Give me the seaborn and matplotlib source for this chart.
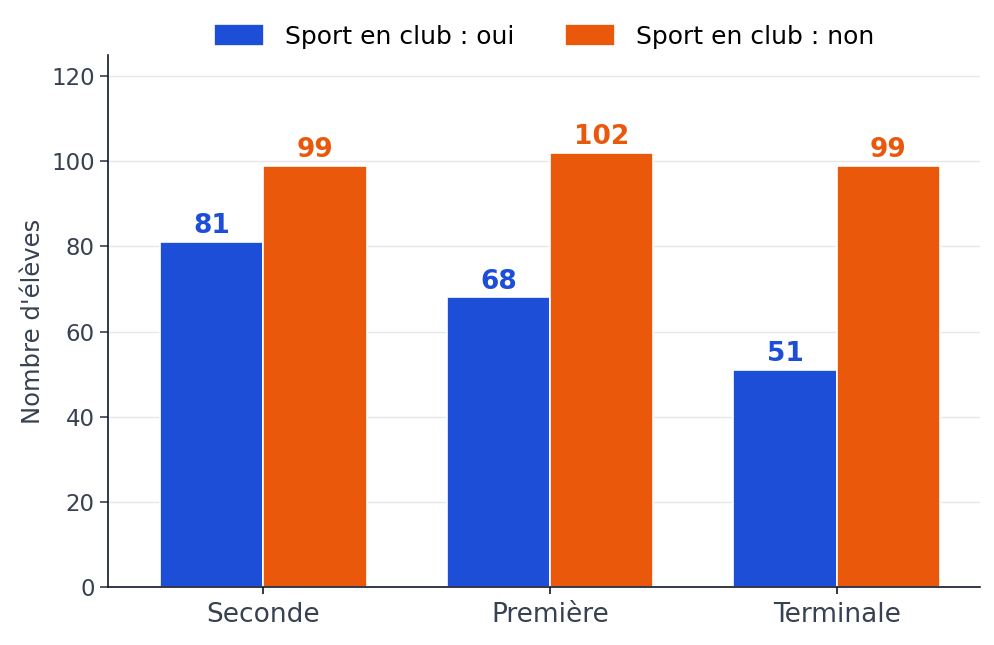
import matplotlib
matplotlib.use("Agg")
import matplotlib.pyplot as plt
import seaborn as sns
import pandas as pd

# data
niveaux = ["Seconde", "Première", "Terminale"]
club_oui = [81, 68, 51]
club_non = [99, 102, 99]
series = ["Sport en club : oui", "Sport en club : non"]
couleurs = ["#1d4ed8", "#ea580c"]

df = pd.DataFrame({
    "Niveau": niveaux * 2,
    "Effectif": club_oui + club_non,
    "Groupe": [series[0]] * 3 + [series[1]] * 3,
})

sns.set_theme(style="white")
plt.rcParams["font.family"] = ["DejaVu Sans"]

fig, ax = plt.subplots(figsize=(9.95, 6.45), dpi=100)
sns.barplot(data=df, x="Niveau", y="Effectif", hue="Groupe", order=niveaux,
            hue_order=series, palette=couleurs, width=0.72, saturation=1,
            edgecolor="white", linewidth=1.2, ax=ax)

for cont, col in zip(ax.containers, couleurs):
    ax.bar_label(cont, padding=2, color=col, fontsize=19, fontweight="bold")

ax.set_ylim(0, 125)
ax.set_xlim(-0.54, 2.5)
ax.set_yticks(range(0, 121, 20))
ax.yaxis.grid(True, color="#e5e7eb", linewidth=1)
ax.set_axisbelow(True)
ax.set_xlabel("")
ax.set_ylabel("Nombre d'élèves", fontsize=17.5, color="#374151", labelpad=4)
ax.tick_params(axis="x", labelsize=19, labelcolor="#374151", color="#111827",
               bottom=True, length=5, width=1.2, pad=6)
ax.tick_params(axis="y", labelsize=16.5, labelcolor="#374151", color="#374151",
               left=True, length=6, width=1.2, pad=4)
for s in ["top", "right"]:
    ax.spines[s].set_visible(False)
for s in ["left", "bottom"]:
    ax.spines[s].set_color("#111827")
    ax.spines[s].set_linewidth(1.2)

leg = ax.legend(loc="lower center", bbox_to_anchor=(0.5, 0.993), ncol=2,
                frameon=False, fontsize=18, handlelength=2.0, handleheight=0.95,
                handletextpad=0.85, columnspacing=2.0, borderaxespad=0)
for t in leg.get_texts():
    t.set_color("black")

fig.subplots_adjust(left=0.109, right=0.985, top=0.915, bottom=0.09)
fig.savefig("out.png", dpi=100)
